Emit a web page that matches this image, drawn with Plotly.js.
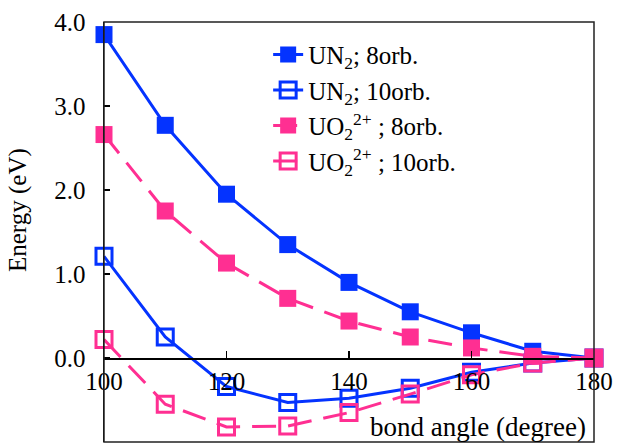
<!DOCTYPE html>
<html>
<head>
<meta charset="utf-8">
<script src="https://cdn.plot.ly/plotly-3.0.1.min.js"></script>
<style>
  html, body { margin: 0; padding: 0; background: #fff; }
  #chart { width: 617px; height: 448px; }
</style>
</head>
<body>
<div id="chart"></div>
<script>
// Bond angle scan (degrees)
const angles = [100, 110, 120, 130, 140, 150, 160, 170, 180];

// Relative energies (eV)
const un2_8orb  = [3.85, 2.77, 1.95, 1.35, 0.90, 0.55, 0.30, 0.08, 0.00];
const un2_10orb = [1.21, 0.25, -0.34, -0.53, -0.48, -0.36, -0.17, -0.06, 0.00];
const uo2_8orb  = [2.66, 1.75, 1.13, 0.71, 0.44, 0.25, 0.12, 0.02, 0.00];
const uo2_10orb = [0.22, -0.55, -0.82, -0.81, -0.65, -0.43, -0.20, -0.06, 0.00];

const seriesNames = [
  'UN<sub>2</sub>; 8orb.',
  'UN<sub>2</sub>; 10orb.',
  'UO<sub>2</sub><sup>2+</sup> ; 8orb.',
  'UO<sub>2</sub><sup>2+</sup> ; 10orb.'
];

const xTicks = [100, 120, 140, 160, 180];
const yTicks = [-1, 0, 1, 2, 3, 4];

const BLUE = '#0433FF';
const PINK = '#FF2F92';
const FONT = 'Liberation Serif, Times New Roman, serif';

function series(y, name, color, filled, dash) {
  return {
    x: angles,
    y: y,
    name: name,
    type: 'scatter',
    mode: 'lines+markers',
    cliponaxis: false,
    line: { color: color, width: 3, dash: dash },
    marker: filled
      ? { symbol: 'square', size: 17, color: color, line: { width: 0 } }
      : { symbol: 'square-open', size: 16, color: color, line: { width: 3, color: color } }
  };
}

const data = [
  series(un2_8orb,  seriesNames[0], BLUE, true,  'solid'),
  series(un2_10orb, seriesNames[1], BLUE, false, 'solid'),
  series(uo2_8orb,  seriesNames[2], PINK, true,  '24px,12px'),
  series(uo2_10orb, seriesNames[3], PINK, false, '24px,12px')
];

const layout = {
  width: 617,
  height: 448,
  margin: { l: 104, r: 23, t: 22, b: 6, pad: 0 },
  paper_bgcolor: '#fff',
  plot_bgcolor: '#fff',
  font: { family: FONT, size: 25, color: '#000' },
  showlegend: true,
  legend: {
    x: 0.335, y: 0.977, xanchor: 'left', yanchor: 'top',
    bgcolor: 'rgba(0,0,0,0)',
    font: { family: FONT, size: 25, color: '#000' },
    itemwidth: 30
  },
  xaxis: {
    range: [100, 180],
    tickvals: xTicks,
    ticktext: xTicks.map(String),
    ticks: 'inside',
    ticklen: 7,
    tickwidth: 1.5,
    tickcolor: '#000',
    showline: true,
    linecolor: '#000',
    linewidth: 1.5,
    showgrid: false,
    zeroline: false,
    anchor: 'free',
    position: 0.2,
    tickfont: { family: FONT, size: 25, color: '#000' },
    fixedrange: true
  },
  yaxis: {
    range: [-1, 4],
    tickvals: yTicks,
    ticktext: yTicks.map(v => v.toFixed(1)),
    ticks: 'inside',
    ticklen: 6,
    tickwidth: 1.5,
    tickcolor: '#000',
    showline: true,
    linecolor: '#000',
    linewidth: 1.5,
    showgrid: false,
    zeroline: false,
    ticklabelstandoff: 12,
    tickfont: { family: FONT, size: 25, color: '#000' },
    fixedrange: true
  },
  shapes: [{
    type: 'rect', xref: 'paper', yref: 'paper',
    x0: 0, x1: 1, y0: 0, y1: 1,
    line: { color: '#222', width: 1.5 },
    layer: 'above'
  }],
  annotations: [
    {
      text: 'Energy (eV)',
      xref: 'paper', yref: 'paper',
      x: 0, y: 0.5, xanchor: 'center', yanchor: 'middle',
      xshift: -86, yshift: 22,
      textangle: -90, showarrow: false,
      font: { family: FONT, size: 25, color: '#000' }
    },
    {
      text: 'bond angle (degree)',
      xref: 'paper', yref: 'paper',
      x: 1, y: 0, xanchor: 'right', yanchor: 'bottom',
      xshift: -6, yshift: -2,
      showarrow: false,
      font: { family: FONT, size: 27, color: '#000' }
    }
  ]
};

Plotly.newPlot('chart', data, layout, { staticPlot: true, displayModeBar: false });
</script>
</body>
</html>
